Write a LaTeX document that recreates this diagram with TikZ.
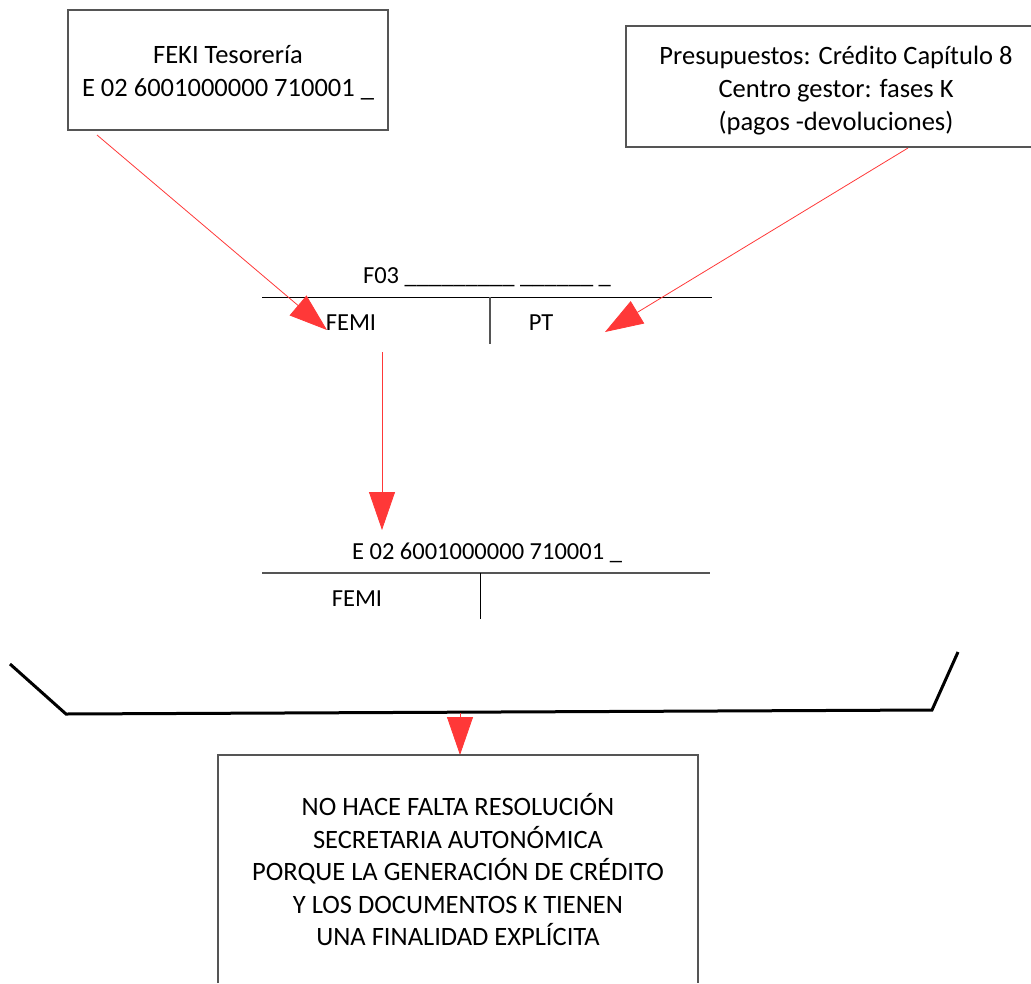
\documentclass[tikz,border=0pt]{standalone}
\usepackage{fontspec}
\setmainfont{Carlito}
\usetikzlibrary{arrows.meta}
\definecolor{arrred}{RGB}{255,56,56}
\definecolor{boxgray}{RGB}{85,85,85}
\begin{document}
\begin{tikzpicture}[x=1pt,y=-1pt,
  boxline/.style={draw=boxgray,line width=1.1pt},
  boxtext/.style={align=center,font=\fontsize{26.5}{33}\selectfont,inner sep=0pt},
  ttext/.style={font=\fontsize{24.5}{30}\selectfont,inner sep=0pt,anchor=base},
  redarrow/.style={draw=arrred,line width=0.8pt,-{Triangle[length=38pt,width=26pt,fill=arrred]}},
  tline/.style={draw=black,line width=1pt},
  tgray/.style={draw=boxgray,line width=1.4pt},
  bracket/.style={draw=black,line width=3pt,line join=miter},
]
\useasboundingbox (0,0) rectangle (1031,983);

% top-left box
\draw[boxline] (68,10) rectangle (388,130);
\node[boxtext] (feki) at (228,73)
  {FEKI Tesorería\\E 02 6001000000 710001 \_};

% top-right box (cut by right edge)
\node[boxtext] (presu) at (836,91)
  {Presupuestos: Crédito Capítulo 8\\Centro gestor: fases K\\(pagos -devoluciones)};
\draw[boxline] (1031,26) -- (626,26) -- (626,147) -- (1031,147);

% T-account 1
\node[ttext] (f03) at (487,283) {F03 \_\_\_\_\_\_\_\_\_ \_\_\_\_\_\_ \_};
\coordinate (h1l) at (262,297);
\coordinate (h1r) at (712,297);
\coordinate (v1t) at (490,297);
\coordinate (v1b) at (490,344);
\draw[tline] (h1l) -- (h1r);
\draw[tgray] (v1t) -- (v1b);
\node[ttext] (femi1) at (351,330) {FEMI};
\node[ttext] (pt) at (541,330) {PT};

% arrows into T-account 1
\coordinate (s1) at (97,135);
\coordinate (t1) at (327,330);
\draw[redarrow] (s1) -- (t1);
\coordinate (s2) at (908,148);
\coordinate (t2) at (605,332);
\draw[redarrow] (s2) -- (t2);

% down arrow
\coordinate (s3) at (382,352);
\coordinate (t3) at (382,530);
\draw[redarrow] (s3) -- (t3);

% T-account 2
\node[ttext] (acct) at (487,559) {E 02 6001000000 710001 \_};
\coordinate (h2l) at (262,573);
\coordinate (h2r) at (710,573);
\coordinate (v2t) at (480,573);
\coordinate (v2b) at (480,619);
\draw[tgray] (h2l) -- (h2r);
\draw[tline] (v2t) -- (v2b);
\node[ttext] (femi2) at (357,606) {FEMI};

% bracket
\coordinate (b1) at (10,664);
\coordinate (b2) at (66,714);
\coordinate (b3) at (932,710);
\coordinate (b4) at (958,652);
\draw[bracket] (b1) -- (b2) -- (b3) -- (b4);

% bottom arrow and box
\coordinate (s4) at (460,713);
\coordinate (t4) at (460,755);
\draw[redarrow] (s4) -- (t4);
\draw[boxline] (218,983) -- (218,755) -- (698,755) -- (698,983);
\node[boxtext,font=\fontsize{26.5}{32.5}\selectfont] (nota) at (458,870)
  {NO HACE FALTA RESOLUCIÓN\\SECRETARIA AUTONÓMICA\\PORQUE LA GENERACIÓN DE CRÉDITO\\Y LOS DOCUMENTOS K TIENEN\\UNA FINALIDAD EXPLÍCITA};
\end{tikzpicture}
\end{document}
